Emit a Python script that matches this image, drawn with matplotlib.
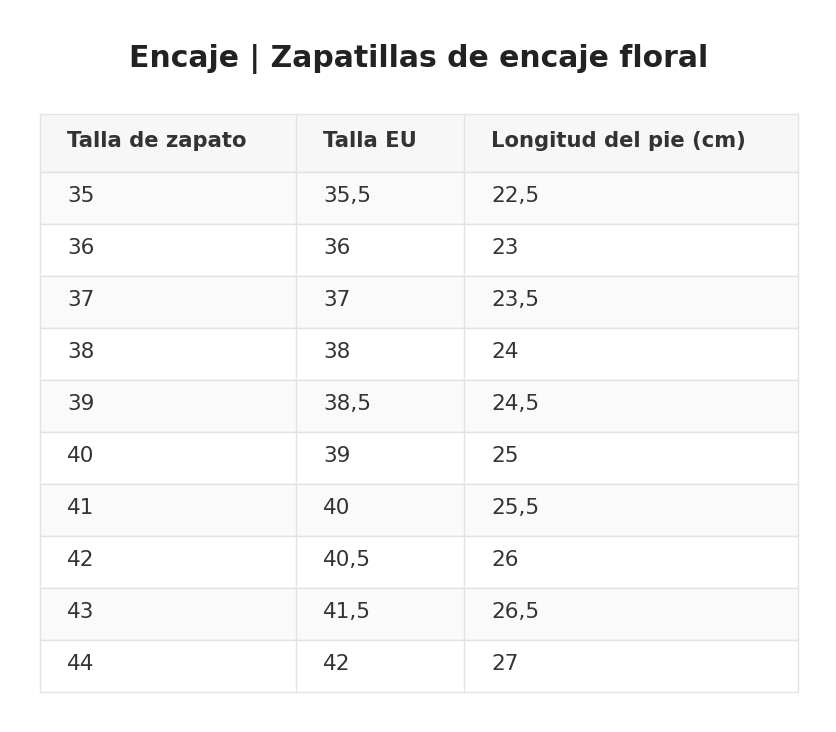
import matplotlib
matplotlib.use("Agg")
import matplotlib.pyplot as plt
from matplotlib.patches import Rectangle

title = "Encaje | Zapatillas de encaje floral"
headers = ["Talla de zapato", "Talla EU", "Longitud del pie (cm)"]
talla_zapato = ["35", "36", "37", "38", "39", "40", "41", "42", "43", "44"]
talla_eu = ["35,5", "36", "37", "38", "38,5", "39", "40", "40,5", "41,5", "42"]
longitud = ["22,5", "23", "23,5", "24", "24,5", "25", "25,5", "26", "26,5", "27"]

W, H = 837, 732
fig = plt.figure(figsize=(W / 100, H / 100), dpi=100)
ax = fig.add_axes([0, 0, 1, 1])
ax.set_xlim(0, W)
ax.set_ylim(H, 0)
ax.axis("off")

col_x = [40, 296, 464, 798]
top, head_h, row_h = 114, 58, 52
border = "#e3e3e3"

ax.text(W / 2, 59, title, ha="center", va="center", fontsize=21.5,
        fontweight="bold", color="#222222")

ax.add_patch(Rectangle((col_x[0], top), col_x[-1] - col_x[0], head_h,
                       facecolor="#f7f7f7", edgecolor=border, lw=1))
for i, h in enumerate(headers):
    ax.text(col_x[i] + 27, top + head_h / 2 - 2, h, ha="left", va="center",
            fontsize=15.2, fontweight="bold", color="#333333")

cols = [talla_zapato, talla_eu, longitud]
for r in range(len(talla_zapato)):
    y = top + head_h + r * row_h
    fc = "#fafafa" if r % 2 == 0 else "#ffffff"
    ax.add_patch(Rectangle((col_x[0], y), col_x[-1] - col_x[0], row_h,
                           facecolor=fc, edgecolor=border, lw=1))
    for c in range(3):
        ax.text(col_x[c] + 27, y + row_h / 2 - 2, cols[c][r], ha="left",
                va="center", fontsize=15.5, color="#333333")

bottom = top + head_h + len(talla_zapato) * row_h
for x in col_x[1:-1]:
    ax.plot([x, x], [top, bottom], color=border, lw=1)

fig.savefig("out.png", dpi=100, facecolor="white")
